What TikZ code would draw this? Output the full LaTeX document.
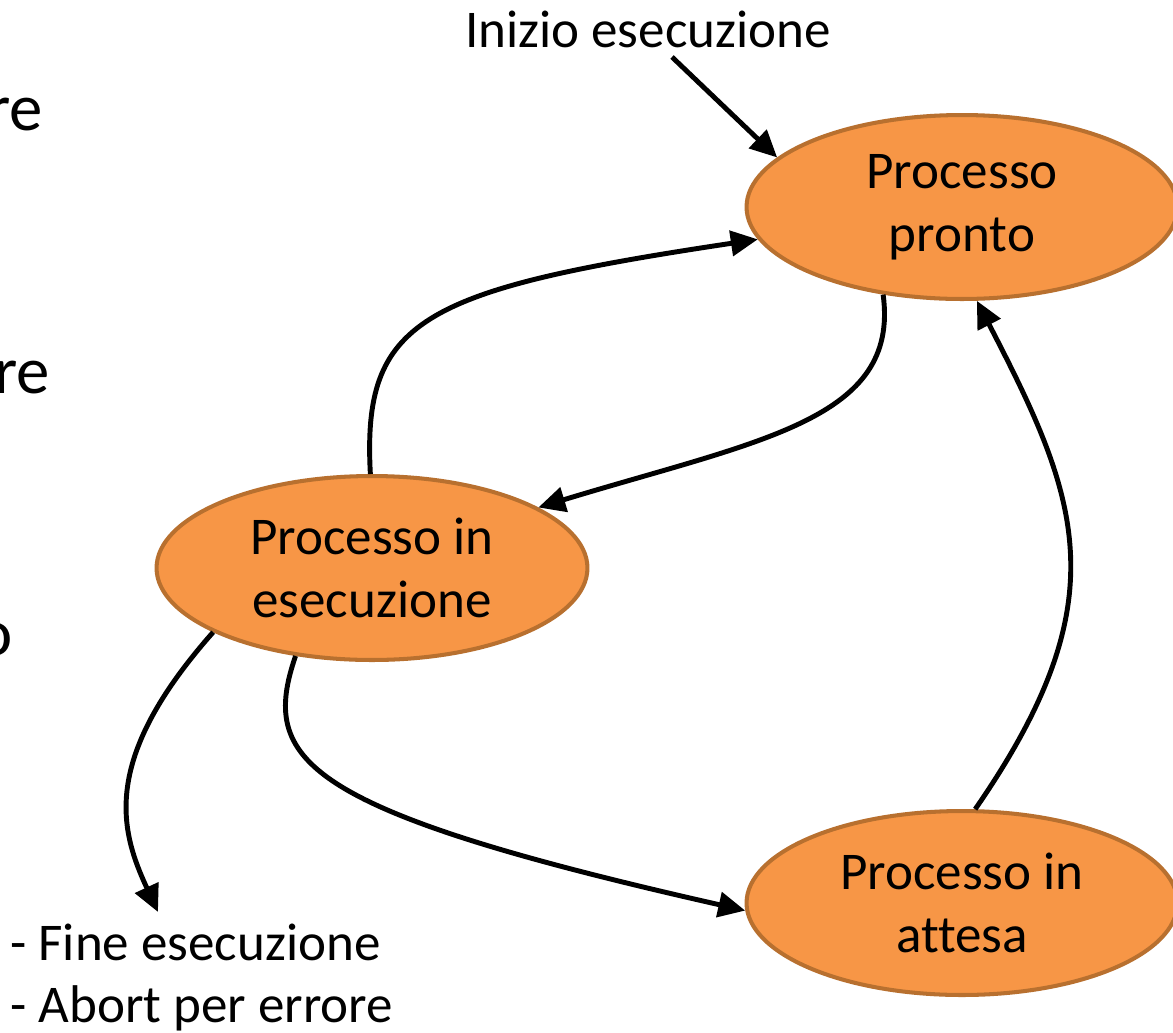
\documentclass[tikz,border=0pt]{standalone}
\usepackage{fontspec}
\setmainfont{Carlito}[Ligatures=NoCommon]
\usetikzlibrary{shapes.geometric,arrows.meta}
\definecolor{stateFill}{HTML}{F79646}
\definecolor{stateEdge}{HTML}{B8702F}
\begin{document}
\begin{tikzpicture}[x=0.02cm,y=-0.02cm,
  state/.style={ellipse, draw=stateEdge, fill=stateFill, line width=2.3pt,
    minimum width=8.62cm, minimum height=3.68cm, inner sep=0pt, align=center,
    font=\fontsize{30.2pt}{35.9pt}\selectfont},
  lbl/.style={inner sep=0pt, font=\fontsize{30.2pt}{35.9pt}\selectfont},
  frag/.style={inner sep=0pt, anchor=base east, font=\fontsize{38pt}{45pt}\selectfont},
  flow/.style={line width=2.8pt, -{Triangle[length=0.54cm,width=0.5cm]}}
]
\useasboundingbox (0,0) rectangle (1173,1032);

% text cut at the left edge
\node[frag] (f1) at (43,130) {re};
\node[frag] (f2) at (50,393) {re};
\node[frag] (f3) at (13,655) {o};

% process states
\node[state] (pronto) at (962,207) {Processo\\pronto};
\node[state] (run) at (372,568) {Processo in\\esecuzione};
\node[state] (wait) at (962,903) {Processo in\\attesa};

% free labels
\node[lbl, anchor=base] (inizio) at (648,47) {Inizio esecuzione};
\node[lbl, anchor=base west] (fine) at (10,960) {- Fine esecuzione};
\node[lbl, anchor=base west] (abort) at (10,1022) {- Abort per errore};

\coordinate (i0) at (672,57);
\coordinate (e0) at (158,912);

% transitions
\draw[flow] (i0) -- (pronto.165);
\draw[flow] (run.91) .. controls (362,320) and (420,290) .. (pronto.189);
\draw[flow] (pronto.228) .. controls (900,420) and (760,440) .. (run.20);
\draw[flow] (run.229) .. controls (260,760) and (300,810) .. (wait.182);
\draw[flow] (run.202) .. controls (100,760) and (120,830) .. (e0);
\draw[flow] (wait.82) .. controls (1120,600) and (1080,500) .. (pronto.279);
\end{tikzpicture}
\end{document}
